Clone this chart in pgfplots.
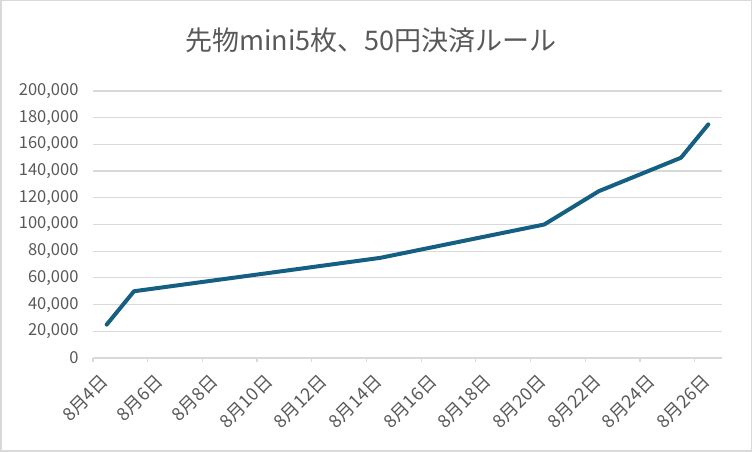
\documentclass[border=0pt]{standalone}
\usepackage{fontspec}
\setmainfont{Noto Sans CJK JP}
\usepackage{pgfplots}
\pgfplotsset{compat=1.18}
\definecolor{lineblue}{HTML}{156082}
\definecolor{txtgray}{HTML}{595959}
\definecolor{gridgray}{HTML}{D9D9D9}
\begin{document}
\begin{tikzpicture}
\useasboundingbox (0pt,0pt) rectangle (752pt,452pt);
\draw[gridgray, line width=1.5pt] (0.75pt,0.75pt) rectangle (751.25pt,451.25pt);
\node[txtgray, font=\fontsize{27}{27}\selectfont] at (371pt,412pt) {先物mini5枚、50円決済ルール};
\begin{axis}[
  at={(93pt,94pt)}, anchor=south west,
  scale only axis, width=629pt, height=267pt,
  xmin=0, xmax=23, ymin=0, ymax=200000,
  axis lines*=left,
  y axis line style={draw=none},
  x axis line style={draw=gridgray, line width=1.2pt},
  ymajorgrids, grid style={gridgray, line width=1.2pt},
  ytick={0,20000,...,200000},
  scaled y ticks=false,
  yticklabel style={/pgf/number format/.cd, fixed, 1000 sep={,}, /tikz/.cd},
  /pgf/number format/assume math mode=true,
  tick label style={txtgray},
  yticklabel style={font=\fontsize{16.5}{16.5}\selectfont, anchor=east, xshift=-11pt},
  xtick={0.5,2.5,...,22.5},
  xticklabels={8月4日,8月6日,8月8日,8月10日,8月12日,8月14日,8月16日,8月18日,8月20日,8月22日,8月24日,8月26日},
  xticklabel style={font=\fontsize{18}{18}\selectfont, yshift=-18pt, xshift=1pt, rotate=45, anchor=east},
  major tick length=0pt,
  extra x ticks={0,2,...,22},
  extra x tick labels={},
  extra x tick style={major tick length=4pt, tick align=outside, tick style={draw=gridgray, line width=1.2pt}},
  clip=false,
]
\addplot[lineblue, line width=4pt, line join=round, line cap=round] coordinates {
  (0.5,25000) (1.5,50000) (10.5,75000) (16.5,100000) (18.5,125000) (21.5,150000) (22.5,175000)
};
\end{axis}
\end{tikzpicture}
\end{document}
